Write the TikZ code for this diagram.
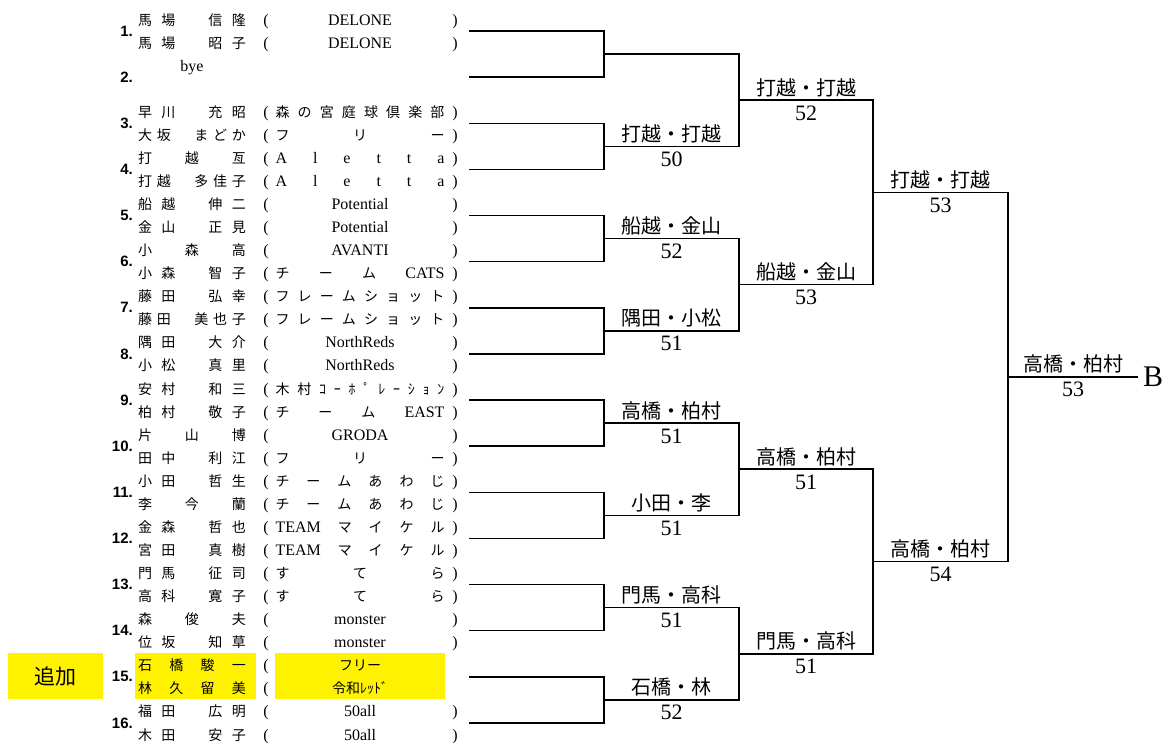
\documentclass[tikz,border=0pt]{standalone}
\usepackage{fontspec}
\setmainfont{Liberation Serif}
\newfontfamily\jp{Noto Sans CJK JP}
\newfontfamily\gth{Liberation Sans}
\usetikzlibrary{calc}

\newcommand{\lat}{\rmfamily\fontsize{16pt}{18pt}\selectfont}
\newcommand{\zsp}{\hbox to 1em{}}
% spread the items of a list evenly over a box
\makeatletter
\def\spreadlist#1{\spread@a#1\@nil}
\def\spread@a#1{{#1}\spread@b}
\def\spread@b#1{\def\spread@t{#1}\ifx\spread@t\@nnil\else\hfill{#1}\expandafter\spread@b\fi}
\makeatother
\newcommand{\nmbox}[1]{\makebox[108pt][s]{\spreadlist{#1}}}
\newcommand{\tmbox}[1]{\makebox[169pt][s]{\spreadlist{#1}}}

\tikzset{
  br/.style={line width=1.5pt},
  rowtxt/.style={anchor=base, yshift=-5.5pt, inner sep=0pt},
  nm/.style={rowtxt, font=\jp\fontsize{14pt}{16pt}\selectfont},
  lt/.style={rowtxt, font=\lat},
  num/.style={anchor=east, inner sep=0pt, font=\gth\bfseries\fontsize{15pt}{17pt}\selectfont},
  win/.style={anchor=base, yshift=5pt, inner sep=0pt, font=\jp\fontsize{20pt}{22pt}\selectfont},
  score/.style={anchor=base, yshift=-20pt, inner sep=0pt, font=\fontsize{22pt}{24pt}\selectfont},
  hl/.style={fill=yellow}
}

\begin{document}
\begin{tikzpicture}[x=1pt,y=-1pt]
  \useasboundingbox (0,0) rectangle (1164,742);

  % columns of the entry list
  \coordinate (numx) at (133,0);
  \coordinate (nmx) at (192,0);
  \coordinate (lpx) at (266,0);
  \coordinate (tmx) at (360,0);
  \coordinate (rpx) at (455,0);
  \foreach \r in {0,...,31}
    \coordinate (r\r) at (0,{19.5+\r*23.065});

  % added pair
  \fill[hl] (135,653) rectangle (256,699);
  \fill[hl] (275,653) rectangle (445,699);
  \node[hl, minimum width=95pt, minimum height=46pt, font=\jp\fontsize{21pt}{23pt}\selectfont] (add) at (55.5,676) {追加};

  % round 1
  \foreach \i in {1,...,16}
    {
      \coordinate (a\i) at (469,{31+(\i-1)*46.13});
      \coordinate (b\i) at (604,{31+(\i-1)*46.13});
      \node[num] (k\i) at (numx |- a\i) {\i.};
    }

  % round 2
  \foreach \j in {1,...,8}
    {
      \pgfmathtruncatemacro\p{2*\j-1}
      \pgfmathtruncatemacro\q{2*\j}
      \draw[br] (a\p) -- (b\p) -- (b\q) -- (a\q);
      \coordinate (c\j) at ($(b\p)!.5!(b\q)$);
      \coordinate (d\j) at ([xshift=135pt]c\j);
    }

  % round 3
  \foreach \k in {1,...,4}
    {
      \pgfmathtruncatemacro\p{2*\k-1}
      \pgfmathtruncatemacro\q{2*\k}
      \draw[br] (c\p) -- (d\p) -- (d\q) -- (c\q);
      \coordinate (e\k) at ($(d\p)!.5!(d\q)$);
      \coordinate (f\k) at ([xshift=134pt]e\k);
    }

  % round 4
  \foreach \m in {1,2}
    {
      \pgfmathtruncatemacro\p{2*\m-1}
      \pgfmathtruncatemacro\q{2*\m}
      \draw[br] (e\p) -- (f\p) -- (f\q) -- (e\q);
      \coordinate (g\m) at ($(f\p)!.5!(f\q)$);
      \coordinate (h\m) at ([xshift=135pt]g\m);
    }

  % final
  \draw[br] (g1) -- (h1) -- (h2) -- (g2);
  \coordinate (fin) at ($(h1)!.5!(h2)$);
  \coordinate (end) at ([xshift=130pt]fin);
  \draw[br] (fin) -- (end);
  \node[anchor=base west, inner sep=0pt, font=\fontsize{30pt}{32pt}\selectfont] (champ) at ([xshift=5pt,yshift=-10pt]end) {B};

  % winners and scores
  \foreach \j/\w/\s in {2/打越・打越/50, 3/船越・金山/52, 4/隅田・小松/51, 5/高橋・柏村/51,
                        6/小田・李/51, 7/門馬・高科/51, 8/石橋・林/52}
    {
      \node[win] (w2\j) at ($(c\j)!.5!(d\j)$) {\w};
      \node[score] (s2\j) at ($(c\j)!.5!(d\j)$) {\s};
    }
  \foreach \k/\w/\s in {1/打越・打越/52, 2/船越・金山/53, 3/高橋・柏村/51, 4/門馬・高科/51}
    {
      \node[win] (w3\k) at ($(e\k)!.5!(f\k)$) {\w};
      \node[score] (s3\k) at ($(e\k)!.5!(f\k)$) {\s};
    }
  \foreach \m/\w/\s in {1/打越・打越/53, 2/高橋・柏村/54}
    {
      \node[win] (w4\m) at ($(g\m)!.5!(h\m)$) {\w};
      \node[score] (s4\m) at ($(g\m)!.5!(h\m)$) {\s};
    }
  \node[win] (w5) at ($(fin)!.5!(end)$) {高橋・柏村};
  \node[score] (s5) at ($(fin)!.5!(end)$) {53};

  % brackets round the teams
  \foreach \r in {0,1,4,5,...,31}
    \node[lt] (lp\r) at (lpx |- r\r) {(};
  \foreach \r in {0,1,4,5,...,27,30,31}
    \node[lt] (rp\r) at (rpx |- r\r) {)};

  % players
  \node[nm] (n0) at (nmx |- r0) {\nmbox{馬場\zsp 信隆}};
  \node[nm] (n1) at (nmx |- r1) {\nmbox{馬場\zsp 昭子}};
  \node[lt] (n2) at (nmx |- r2) {bye};
  \node[nm] (n4) at (nmx |- r4) {\nmbox{早川\zsp 充昭}};
  \node[nm] (n5) at (nmx |- r5) {\nmbox{大坂\zsp まどか}};
  \node[nm] (n6) at (nmx |- r6) {\nmbox{打越亙}};
  \node[nm] (n7) at (nmx |- r7) {\nmbox{打越\zsp 多佳子}};
  \node[nm] (n8) at (nmx |- r8) {\nmbox{船越\zsp 伸二}};
  \node[nm] (n9) at (nmx |- r9) {\nmbox{金山\zsp 正見}};
  \node[nm] (n10) at (nmx |- r10) {\nmbox{小森高}};
  \node[nm] (n11) at (nmx |- r11) {\nmbox{小森\zsp 智子}};
  \node[nm] (n12) at (nmx |- r12) {\nmbox{藤田\zsp 弘幸}};
  \node[nm] (n13) at (nmx |- r13) {\nmbox{藤田\zsp 美也子}};
  \node[nm] (n14) at (nmx |- r14) {\nmbox{隅田\zsp 大介}};
  \node[nm] (n15) at (nmx |- r15) {\nmbox{小松\zsp 真里}};
  \node[nm] (n16) at (nmx |- r16) {\nmbox{安村\zsp 和三}};
  \node[nm] (n17) at (nmx |- r17) {\nmbox{柏村\zsp 敬子}};
  \node[nm] (n18) at (nmx |- r18) {\nmbox{片山博}};
  \node[nm] (n19) at (nmx |- r19) {\nmbox{田中\zsp 利江}};
  \node[nm] (n20) at (nmx |- r20) {\nmbox{小田\zsp 哲生}};
  \node[nm] (n21) at (nmx |- r21) {\nmbox{李今蘭}};
  \node[nm] (n22) at (nmx |- r22) {\nmbox{金森\zsp 哲也}};
  \node[nm] (n23) at (nmx |- r23) {\nmbox{宮田\zsp 真樹}};
  \node[nm] (n24) at (nmx |- r24) {\nmbox{門馬\zsp 征司}};
  \node[nm] (n25) at (nmx |- r25) {\nmbox{高科\zsp 寛子}};
  \node[nm] (n26) at (nmx |- r26) {\nmbox{森俊夫}};
  \node[nm] (n27) at (nmx |- r27) {\nmbox{位坂\zsp 知草}};
  \node[nm] (n28) at (nmx |- r28) {\nmbox{石橋駿一}};
  \node[nm] (n29) at (nmx |- r29) {\nmbox{林久留美}};
  \node[nm] (n30) at (nmx |- r30) {\nmbox{福田\zsp 広明}};
  \node[nm] (n31) at (nmx |- r31) {\nmbox{木田\zsp 安子}};

  % teams
  \node[lt] (t0) at (tmx |- r0) {DELONE};
  \node[lt] (t1) at (tmx |- r1) {DELONE};
  \node[nm] (t4) at (tmx |- r4) {\tmbox{森の宮庭球倶楽部}};
  \node[nm] (t5) at (tmx |- r5) {\tmbox{フリー}};
  \node[lt] (t6) at (tmx |- r6) {\tmbox{Aletta}};
  \node[lt] (t7) at (tmx |- r7) {\tmbox{Aletta}};
  \node[lt] (t8) at (tmx |- r8) {Potential};
  \node[lt] (t9) at (tmx |- r9) {Potential};
  \node[lt] (t10) at (tmx |- r10) {AVANTI};
  \node[nm] (t11) at (tmx |- r11) {\tmbox{チーム{\lat CATS}}};
  \node[nm] (t12) at (tmx |- r12) {\tmbox{フレームショット}};
  \node[nm] (t13) at (tmx |- r13) {\tmbox{フレームショット}};
  \node[lt] (t14) at (tmx |- r14) {NorthReds};
  \node[lt] (t15) at (tmx |- r15) {NorthReds};
  \node[nm] (t16) at (tmx |- r16) {\tmbox{木村ｺｰﾎﾟﾚｰｼｮﾝ}};
  \node[nm] (t17) at (tmx |- r17) {\tmbox{チーム{\lat EAST}}};
  \node[lt] (t18) at (tmx |- r18) {GRODA};
  \node[nm] (t19) at (tmx |- r19) {\tmbox{フリー}};
  \node[nm] (t20) at (tmx |- r20) {\tmbox{チームあわじ}};
  \node[nm] (t21) at (tmx |- r21) {\tmbox{チームあわじ}};
  \node[nm] (t22) at (tmx |- r22) {\tmbox{{\lat TEAM}マイケル}};
  \node[nm] (t23) at (tmx |- r23) {\tmbox{{\lat TEAM}マイケル}};
  \node[nm] (t24) at (tmx |- r24) {\tmbox{すてら}};
  \node[nm] (t25) at (tmx |- r25) {\tmbox{すてら}};
  \node[lt] (t26) at (tmx |- r26) {monster};
  \node[lt] (t27) at (tmx |- r27) {monster};
  \node[nm] (t28) at (tmx |- r28) {フリー};
  \node[nm] (t29) at (tmx |- r29) {令和ﾚｯﾄﾞ};
  \node[lt] (t30) at (tmx |- r30) {50all};
  \node[lt] (t31) at (tmx |- r31) {50all};
\end{tikzpicture}
\end{document}
